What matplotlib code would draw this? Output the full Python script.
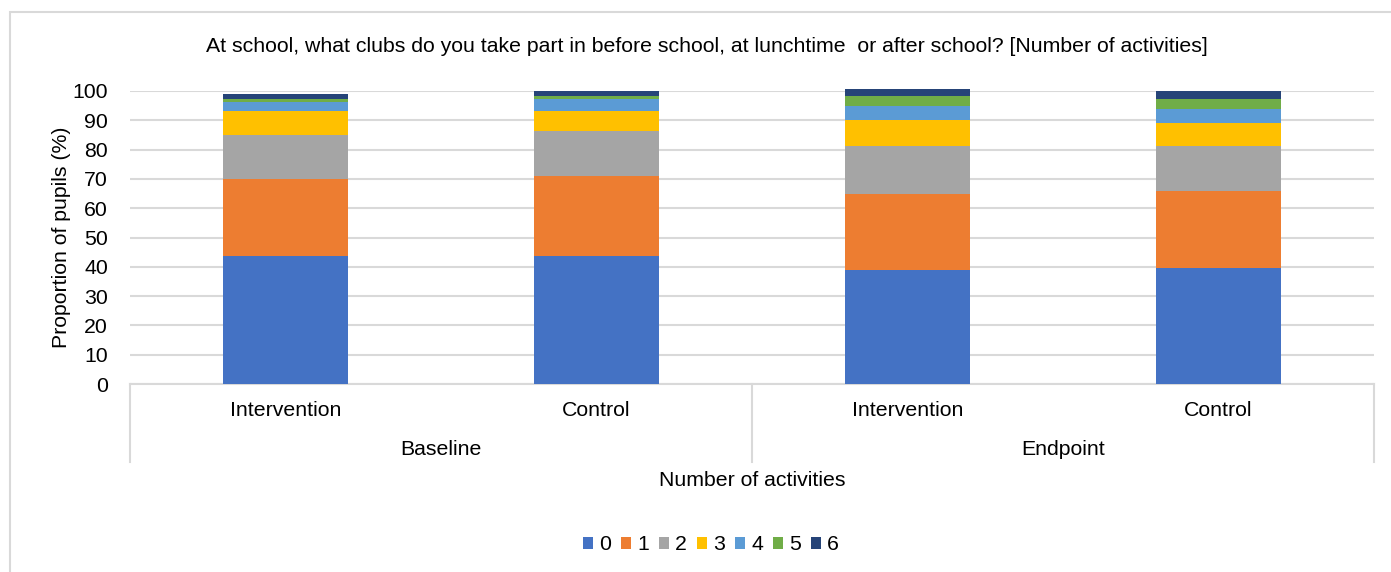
import matplotlib.pyplot as plt
from matplotlib.patches import Rectangle
from matplotlib.lines import Line2D

plt.rcParams['font.family'] = ['Liberation Sans', 'DejaVu Sans']

# Groups and arms on the two-level category axis
periods = ['Baseline', 'Endpoint']
arms = ['Intervention', 'Control', 'Intervention', 'Control']

# Number of activities (stack order, bottom to top)
activities = ['0', '1', '2', '3', '4', '5', '6']
colors = ['#4472c4', '#ed7d31', '#a5a5a5', '#ffc000', '#5b9bd5', '#70ad47', '#264478']

# Proportion of pupils (%) per arm, one list per number of activities
act_0 = [43.7, 43.7, 38.9, 39.6]
act_1 = [26.2, 27.2, 26.0, 26.2]
act_2 = [15.0, 15.3, 16.4, 15.5]
act_3 = [8.3, 7.0, 8.7, 7.8]
act_4 = [3.1, 4.0, 5.0, 4.9]
act_5 = [1.0, 1.1, 3.3, 3.3]
act_6 = [1.8, 1.7, 2.4, 2.7]
series = [act_0, act_1, act_2, act_3, act_4, act_5, act_6]

FS = 15.3

fig = plt.figure(figsize=(13.91, 5.72), dpi=100)

# light chart border
fig.patches.append(Rectangle((10 / 1391, -0.1), 1.2, 1.1 - 12 / 572, transform=fig.transFigure,
                             fill=False, edgecolor='#d9d9d9', linewidth=1.5))

ax = fig.add_axes([130 / 1391, (572 - 384) / 572, 1244 / 1391, 293 / 572])

x = list(range(len(arms)))
bottom = [0.0] * len(arms)
for name, vals, c in zip(activities, series, colors):
    ax.bar(x, vals, width=0.4, bottom=bottom, color=c, label=name, zorder=3, clip_on=False)
    bottom = [b + v for b, v in zip(bottom, vals)]

ax.set_xlim(-0.5, len(arms) - 0.5)
ax.set_ylim(0, 100)
ax.set_yticks(range(0, 101, 10))
ax.tick_params(axis='y', length=0, labelsize=FS, pad=16)
ax.tick_params(axis='x', length=0, labelbottom=False)
ax.grid(axis='y', color='#d9d9d9', linewidth=1.5, zorder=0)
for side in ['top', 'right', 'left']:
    ax.spines[side].set_visible(False)
ax.spines['bottom'].set_color('#d9d9d9')
ax.spines['bottom'].set_linewidth(1.5)

ax.set_ylabel('Proportion of pupils (%)', fontsize=FS, labelpad=1)

# two-level category labels below the axis
for i, arm in enumerate(arms):
    ax.text(i, -9, arm, ha='center', va='center', fontsize=FS, clip_on=False)
for j, p in enumerate(periods):
    ax.text(2 * j + 0.5, -22.3, p, ha='center', va='center', fontsize=FS, clip_on=False)
for xs in [-0.5, 1.5, 3.5]:
    ax.add_line(Line2D([xs, xs], [0, -26.6], color='#d9d9d9', linewidth=1.5, clip_on=False))

fig.text(752 / 1391, 1 - 480 / 572, 'Number of activities', ha='center', va='center', fontsize=FS)
fig.text(707 / 1391, 1 - 47 / 572,
         'At school, what clubs do you take part in before school, at lunchtime  or after school? [Number of activities]',
         ha='center', va='center', fontsize=FS)

fig.legend(loc='center', bbox_to_anchor=(711 / 1391, 1 - 545 / 572), ncol=7, frameon=False,
           fontsize=FS, handlelength=0.5, handleheight=0.5, handletextpad=0.28, columnspacing=0.45)

fig.savefig('out.png', dpi=100)
